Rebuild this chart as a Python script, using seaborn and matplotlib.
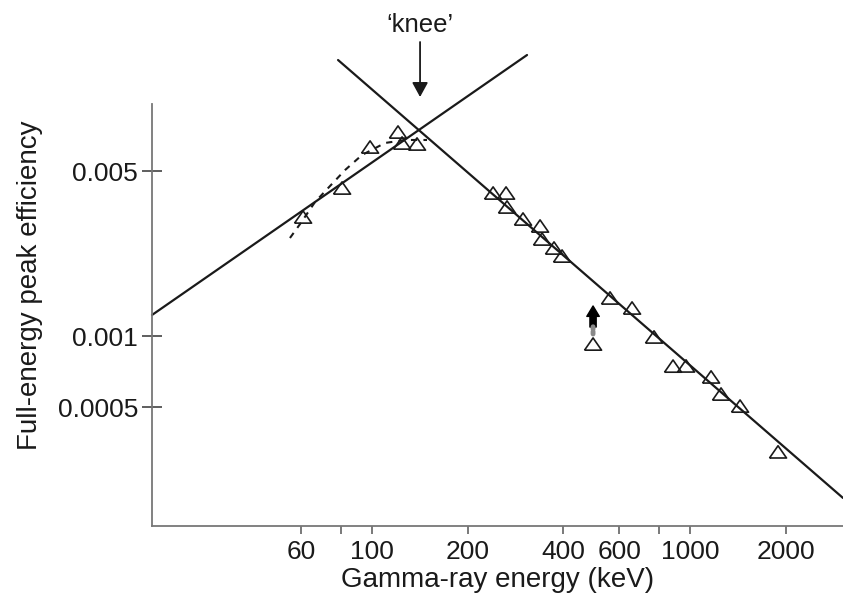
import matplotlib
matplotlib.use("Agg")
import matplotlib.pyplot as plt
import seaborn as sns

# ---- data ----
energy_keV = [60.7, 80.5, 98.6, 120.7, 124.3, 138.5, 240.3, 263.9, 265.8, 298.4,
              337.6, 342.5, 373.5, 395.9, 495.5, 560.3, 657.1, 770.5, 884.2, 971.4,
              1164.5, 1251.7, 1436.5, 1891.0]
efficiency = [0.003195, 0.004240, 0.006326, 0.007321, 0.006577, 0.006514, 0.004038,
              0.004038, 0.003523, 0.003133, 0.002926, 0.002578, 0.002361, 0.002183,
              0.000925, 0.001450, 0.001315, 0.000991, 0.000746, 0.000747, 0.000671,
              0.000568, 0.000505, 0.000323]

low_fit_E = [20.33, 307.2]
low_fit_eff = [0.001228, 0.01552]
high_fit_E = [78.2, 3027.0]
high_fit_eff = [0.01478, 0.000206]
poly_E = [55.2, 59.4, 66.2, 73.8, 82.3, 93.0, 109.9, 127.0, 148.9]
poly_eff = [0.002603, 0.002984, 0.003699, 0.004324, 0.005054, 0.005851, 0.006579,
            0.006774, 0.006774]

knee_E = 141.6
outlier_E = 495.5

x_ticks = [60, 80, 100, 200, 400, 600, 800, 1000, 2000]
x_tick_labels = ["60", "", "100", "200", "400", "600", "", "1000", "2000"]
y_ticks = [0.0005, 0.001, 0.005]
y_tick_labels = ["0.0005", "0.001", "0.005"]

# ---- style ----
sns.set_style("ticks")
plt.rcParams["font.family"] = ["Liberation Sans", "DejaVu Sans"]

ink = "#1a1a1a"
fig = plt.figure(figsize=(8.43, 6.02), dpi=100)
ax = fig.add_axes([152 / 843, 76 / 602, 691 / 843, 422 / 602])
ax.set_xscale("log")
ax.set_yscale("log")

sns.lineplot(x=low_fit_E, y=low_fit_eff, sort=False, estimator=None, ax=ax,
             color=ink, linewidth=1.6)
sns.lineplot(x=high_fit_E, y=high_fit_eff, sort=False, estimator=None, ax=ax,
             color=ink, linewidth=1.6)
sns.lineplot(x=poly_E, y=poly_eff, sort=False, estimator=None, ax=ax,
             color=ink, linewidth=1.5)
ax.lines[-1].set_dashes((3, 3))
for ln in ax.lines:
    ln.set_clip_on(False)

tri = [(-1, -0.72), (1, -0.72), (0, 0.72), (-1, -0.72)]
sns.scatterplot(x=energy_keV, y=efficiency, ax=ax, marker=tri, s=150,
                color="black", linewidth=1.2, zorder=3)
coll = ax.collections[-1]
coll.set_facecolor("none")
coll.set_edgecolor(ink)
coll.set_linewidth(1.2)

ax.set_xlim(20.33, 3027)
ax.set_ylim(0.0001567, 0.009623)

# knee annotation
ax.annotate("", xy=(knee_E, 0.01030), xytext=(knee_E, 0.01762),
            arrowprops=dict(arrowstyle="-|>,head_length=0.55,head_width=0.3",
                            lw=1.3, color=ink, shrinkA=0, shrinkB=0,
                            mutation_scale=16),
            annotation_clip=False)
ax.text(knee_E, 0.0208, "\u2018knee\u2019", ha="center", va="center",
        fontsize=18.5, color=ink, clip_on=False)

# outlier arrow
ax.annotate("", xy=(outlier_E, 0.001341), xytext=(outlier_E, 0.001092),
            arrowprops=dict(arrowstyle="simple,head_length=0.5,head_width=0.6,tail_width=0.3",
                            color="black", shrinkA=0, shrinkB=0, mutation_scale=15))
ax.annotate("", xy=(outlier_E, 0.001095), xytext=(outlier_E, 0.001020),
            arrowprops=dict(arrowstyle="-", lw=3.5, color="#888888",
                            linestyle=(0, (0.5, 0.5)), shrinkA=0, shrinkB=0))

# axes
ax.set_xticks(x_ticks)
ax.set_xticklabels(x_tick_labels)
ax.set_yticks(y_ticks)
ax.set_yticklabels(y_tick_labels)
ax.minorticks_off()
ax.tick_params(axis="x", direction="out", length=6, width=1.1, color="#555555",
               labelsize=19, pad=4, labelcolor=ink)
ax.tick_params(axis="y", direction="inout", length=14, width=1.1, color="#333333",
               labelsize=19, pad=3, labelcolor=ink)
for side in ("top", "right"):
    ax.spines[side].set_visible(False)
for side in ("left", "bottom"):
    ax.spines[side].set_color("#777777")
    ax.spines[side].set_linewidth(1.3)

ax.set_xlabel("Gamma-ray energy (keV)", fontsize=20, color=ink)
ax.set_ylabel("Full-energy peak efficiency", fontsize=20, color=ink)
ax.xaxis.set_label_coords(0.5, -0.097)
ax.yaxis.set_label_coords(-0.158, 0.571)

fig.savefig("out.png", dpi=100)
